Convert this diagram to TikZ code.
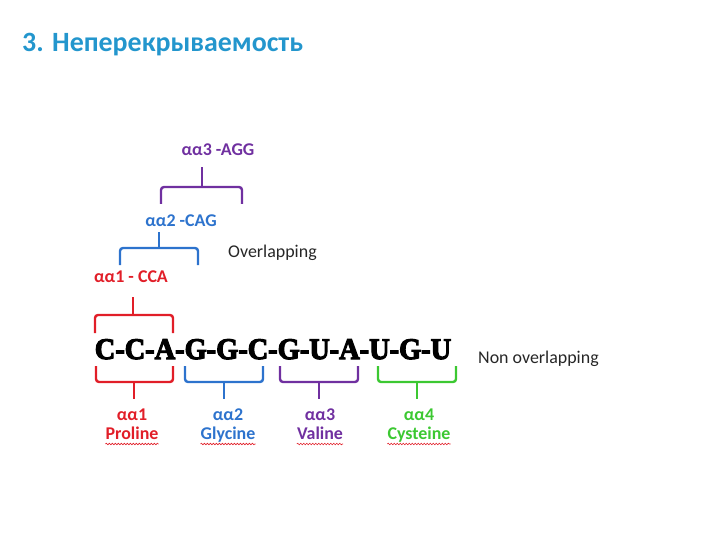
\documentclass[tikz,border=0pt]{standalone}
\usepackage{fontspec}
\setmainfont{Carlito}
\newfontfamily\seqfont[BoldFeatures={FakeBold=4}]{Liberation Serif}
\usetikzlibrary{decorations.pathmorphing}

\definecolor{titleblue}{RGB}{35,150,205}
\definecolor{aared}{RGB}{225,30,40}
\definecolor{aablue}{RGB}{45,115,205}
\definecolor{aapurple}{RGB}{112,48,160}
\definecolor{aagreen}{RGB}{60,200,50}

\tikzset{
  brace/.style={line width=2.4bp, rounded corners=3bp},
  aalabel/.style={anchor=base, inner sep=0pt, font=\fontsize{18}{20}\selectfont\bfseries},
  plainlabel/.style={anchor=base west, inner sep=0pt, text=black!85, font=\fontsize{18}{20}\selectfont},
  squiggle/.style={aared, line width=0.6bp, decorate, decoration={snake, amplitude=0.8bp, segment length=3bp}},
}

\begin{document}
\begin{tikzpicture}[x=1bp, y=-1bp]
    \useasboundingbox (0,0) rectangle (720,540);
    \path (22,52) node [anchor=base west, inner sep=0pt, text=titleblue,
        font=\fontsize{28}{32}\selectfont\bfseries] (title) {3. Неперекрываемость};

    % the sequence
    \path (273,359) node [anchor=base, inner sep=0pt,
        font=\seqfont\bfseries\fontsize{30}{32}\selectfont] (seq) {\scalebox{0.95}[1]{C-C-A-G-G-C-G-U-A-U-G-U}};
    \path (478,363) node [plainlabel] (nonover) {Non overlapping};
    \path (228,258) node [plainlabel] (over) {Overlapping};

    % overlapping readings
    \path (131,283) node [aalabel, text=aared] (t1) {αα1 - CCA};
    \path (181,227) node [aalabel, text=aablue] (t2) {αα2 -CAG};
    \path (218,156) node [aalabel, text=aapurple] (t3) {αα3 -AGG};
    \draw [brace, aared] (95,333) -- (95,315) -- (173,315) -- (173,333);
    \draw [brace, aared] (133,315) -- (133,297);
    \draw [brace, aablue] (120,265) -- (120,248) -- (198,248) -- (198,265);
    \draw [brace, aablue] (159,248) -- (159,232);
    \draw [brace, aapurple] (161,204) -- (161,187) -- (242,187) -- (242,204);
    \draw [brace, aapurple] (202,187) -- (202,167);

    % non overlapping readings
    \draw [brace, aared] (96,366) -- (96,382) -- (173,382) -- (173,366);
    \draw [brace, aared] (134,382) -- (134,399);
    \draw [brace, aablue] (185,366) -- (185,382) -- (263,382) -- (263,366);
    \draw [brace, aablue] (224,382) -- (224,399);
    \draw [brace, aapurple] (280,366) -- (280,382) -- (358,382) -- (358,366);
    \draw [brace, aapurple] (319,382) -- (319,399);
    \draw [brace, aagreen] (378,366) -- (378,382) -- (456,382) -- (456,366);
    \draw [brace, aagreen] (417,382) -- (417,399);

    \path (132,420) node [aalabel, text=aared] (b1) {αα1};
    \path (132,439) node [aalabel, text=aared] (n1) {Proline};
    \path (228,420) node [aalabel, text=aablue] (b2) {αα2};
    \path (228,439) node [aalabel, text=aablue] (n2) {Glycine};
    \path (320,420) node [aalabel, text=aapurple] (b3) {αα3};
    \path (320,439) node [aalabel, text=aapurple] (n3) {Valine};
    \path (419,420) node [aalabel, text=aagreen] (b4) {αα4};
    \path (419,439) node [aalabel, text=aagreen] (n4) {Cysteine};
    \draw [squiggle] ([yshift=-5bp]n1.base west) -- ([yshift=-5bp]n1.base east);
    \draw [squiggle] ([yshift=-5bp]n2.base west) -- ([yshift=-5bp]n2.base east);
    \draw [squiggle] ([yshift=-5bp]n3.base west) -- ([yshift=-5bp]n3.base east);
    \draw [squiggle] ([yshift=-5bp]n4.base west) -- ([yshift=-5bp]n4.base east);
\end{tikzpicture}
\end{document}
